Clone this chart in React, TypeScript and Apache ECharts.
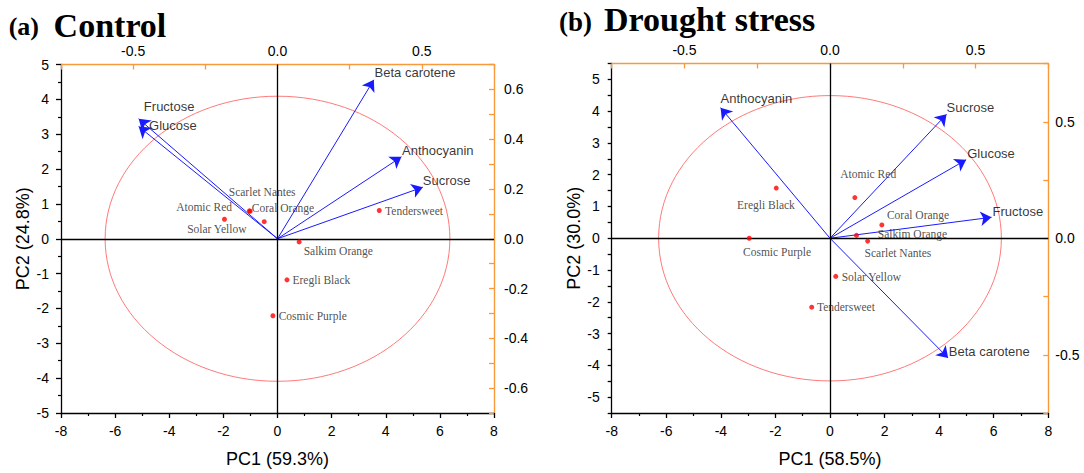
import React, { useEffect, useRef } from 'react';
import * as echarts from 'echarts';

// ---------- Panel (a) Control ----------
const loadNamesA = ['Beta carotene', 'Fructose', 'Glucose', 'Anthocyanin', 'Sucrose'];
const loadPC1A = [3.56, -5.13, -5.13, 4.58, 5.37];
const loadPC2A = [4.56, 3.44, 3.22, 2.35, 1.48];

const cultivarsA = ['Scarlet Nantes', 'Atomic Red', 'Coral Orange', 'Solar Yellow', 'Tendersweet', 'Salkim Orange', 'Eregli Black', 'Cosmic Purple'];
const scorePC1A = [-1.01, -1.04, -0.49, -1.96, 3.76, 0.8, 0.35, -0.17];
const scorePC2A = [0.79, 0.8, 0.49, 0.56, 0.81, -0.09, -1.18, -2.21];

const circleA = [6.37, 4.09];

// ---------- Panel (b) Drought stress ----------
const loadNamesB = ['Anthocyanin', 'Sucrose', 'Glucose', 'Fructose', 'Beta carotene'];
const loadPC1B = [-4.01, 4.27, 4.99, 5.92, 4.33];
const loadPC2B = [4.11, 3.9, 2.47, 0.66, -3.77];

const cultivarsB = ['Eregli Black', 'Cosmic Purple', 'Atomic Red', 'Coral Orange', 'Salkim Orange', 'Scarlet Nantes', 'Solar Yellow', 'Tendersweet'];
const scorePC1B = [-1.97, -2.96, 0.91, 1.9, 0.97, 1.38, 0.21, -0.67];
const scorePC2B = [1.58, 0.0, 1.28, 0.42, 0.09, -0.09, -1.2, -2.17];

const circleB = [6.28, 4.49];

const axisTitlesA = ['PC1 (59.3%)', 'PC2 (24.8%)'];
const axisTitlesB = ['PC1 (58.5%)', 'PC2 (30.0%)'];
const panelTitles = [['(a)', 'Control'], ['(b)', 'Drought stress']];

// ---------- label layout (pixel offsets) ----------
const labelLayoutA: Record<string, [string, number, number]> = {
  'Scarlet Nantes': ['left', -21.4, -19],
  'Atomic Red': ['right', -17.3, -3.4],
  'Coral Orange': ['left', -12.4, -14],
  'Solar Yellow': ['center', -7.6, 9.3],
  'Tendersweet': ['left', 5.8, 0.4],
  'Salkim Orange': ['left', 4.5, 9],
  'Eregli Black': ['left', 5.5, 0],
  'Cosmic Purple': ['left', 5.8, 0],
};
const labelLayoutB: Record<string, [string, number, number]> = {
  'Eregli Black': ['center', -10.3, 17.3],
  'Cosmic Purple': ['left', -6.2, 13.4],
  'Atomic Red': ['left', -14.6, -23.3],
  'Coral Orange': ['left', 5.1, -10],
  'Salkim Orange': ['left', 21.4, -1],
  'Scarlet Nantes': ['left', -3.1, 11.7],
  'Solar Yellow': ['left', 5.9, 0.4],
  'Tendersweet': ['left', 5.2, -0.3],
};
const arrowLabelA: Record<string, [number, number]> = {
  'Beta carotene': [0.7, -7.7],
  'Fructose': [5.2, -12.3],
  'Glucose': [10.4, -0.7],
  'Anthocyanin': [0.6, -6.6],
  'Sucrose': [0, -6.7],
};
const arrowLabelB: Record<string, [number, number]> = {
  'Anthocyanin': [0, -9],
  'Sucrose': [0, -7.3],
  'Glucose': [1, -6.7],
  'Fructose': [1, -5.6],
  'Beta carotene': [0.7, -7],
};

const ORANGE = '#f89a3c';
const BLUE = '#1a1aff';
const RED = '#ff0000';
const SANS = '"Liberation Sans", Arial, sans-serif';
const SERIF = '"Liberation Serif", "Times New Roman", serif';

function panelSeries(
  idx: number,
  loadNames: string[], lp1: number[], lp2: number[],
  cultivars: string[], sp1: number[], sp2: number[],
  circle: number[],
  labelLayout: Record<string, [string, number, number]>,
  arrowLabel: Record<string, [number, number]>
) {
  const ax = idx * 2;
  return [
    {
      type: 'custom',
      xAxisIndex: ax,
      yAxisIndex: ax,
      silent: true,
      z: 1,
      data: [[0, 0, circle[0], circle[1]]],
      renderItem: (params: any, api: any) => {
        const c = api.coord([api.value(0), api.value(1)]);
        const s = api.size([api.value(2), api.value(3)], [api.value(0), api.value(1)]);
        return {
          type: 'ellipse',
          shape: { cx: c[0], cy: c[1], rx: s[0], ry: s[1] },
          style: { fill: 'none', stroke: '#ff6a6a', lineWidth: 0.9 },
        };
      },
    },
    {
      type: 'lines',
      coordinateSystem: 'cartesian2d',
      xAxisIndex: ax,
      yAxisIndex: ax,
      silent: true,
      z: 3,
      symbol: ['none', 'arrow'],
      symbolSize: 11,
      lineStyle: { color: BLUE, width: 1, opacity: 1 },
      data: loadNames.map((n, i) => ({ name: n, coords: [[0, 0], [lp1[i], lp2[i]]] })),
    },
    {
      type: 'scatter',
      xAxisIndex: ax,
      yAxisIndex: ax,
      silent: true,
      z: 4,
      symbolSize: 0,
      data: loadNames.map((n, i) => ({
        name: n,
        value: [lp1[i], lp2[i]],
        label: {
          show: true,
          position: 'inside',
          align: 'left',
          verticalAlign: 'middle',
          offset: arrowLabel[n],
          formatter: n,
          fontFamily: SANS,
          fontSize: 13,
          color: '#000',
        },
      })),
    },
    {
      type: 'scatter',
      xAxisIndex: ax,
      yAxisIndex: ax,
      silent: true,
      z: 5,
      symbol: 'circle',
      symbolSize: 5,
      itemStyle: { color: RED },
      data: cultivars.map((n, i) => ({
        name: n,
        value: [sp1[i], sp2[i]],
        label: {
          show: true,
          position: 'inside',
          align: labelLayout[n][0],
          verticalAlign: 'middle',
          offset: [labelLayout[n][1], labelLayout[n][2]],
          formatter: n,
          fontFamily: SERIF,
          fontSize: 11.5,
          color: '#222',
        },
      })),
      markLine: {
        silent: true,
        symbol: 'none',
        label: { show: false },
        lineStyle: { color: '#000', width: 1.3, type: 'solid' },
        data: [{ xAxis: 0 }, { yAxis: 0 }],
      },
    },
  ];
}

function bottomAxis(grid: number, name: string) {
  return {
    gridIndex: grid,
    type: 'value',
    position: 'bottom',
    min: -8,
    max: 8,
    interval: 2,
    name,
    nameLocation: 'middle',
    nameGap: 37,
    nameTextStyle: { fontFamily: SANS, fontSize: 18, color: '#000' },
    axisLine: { show: true, onZero: false, lineStyle: { color: '#000', width: 1.3 } },
    axisTick: { show: true, inside: false, length: 5, lineStyle: { color: '#000', width: 1.3 } },
    minorTick: { show: true, splitNumber: 2, length: 3, lineStyle: { color: '#000', width: 1.2 } },
    axisLabel: { margin: 11, fontFamily: SANS, fontSize: 14, color: '#000' },
    splitLine: { show: false },
  };
}

function topAxis(grid: number) {
  return {
    gridIndex: grid,
    type: 'value',
    position: 'top',
    min: -0.75,
    max: 0.75,
    interval: 0.25,
    axisLine: { show: true, onZero: false, lineStyle: { color: ORANGE, width: 1.4 } },
    axisTick: { show: true, inside: true, length: 5, lineStyle: { color: ORANGE, width: 1.3 } },
    axisLabel: {
      margin: 7,
      fontFamily: SANS,
      fontSize: 14,
      color: '#000',
      formatter: (v: number) => {
        const r = Math.round(v * 4);
        if (r % 2 !== 0) return '';
        return (r === 0 ? 0 : r / 4).toFixed(1);
      },
    },
    splitLine: { show: false },
  };
}

const App: React.FC = () => {
  const ref = useRef<HTMLDivElement>(null);
  useEffect(() => {
    if (!ref.current) return;
    const chart = echarts.init(ref.current, undefined, { renderer: 'svg' });
    const option: any = {
      animation: false,
      backgroundColor: '#fff',
      grid: [
        { left: 61, top: 64.5, width: 433, height: 350 },
        { left: 611.7, top: 63.5, width: 436.6, height: 352 },
      ],
      xAxis: [
        bottomAxis(0, axisTitlesA[0]),
        topAxis(0),
        bottomAxis(1, axisTitlesB[0]),
        topAxis(1),
      ],
      yAxis: [
        {
          gridIndex: 0,
          type: 'value',
          position: 'left',
          min: -5,
          max: 5,
          interval: 1,
          name: axisTitlesA[1],
          nameLocation: 'middle',
          nameGap: 29,
          nameTextStyle: { fontFamily: SANS, fontSize: 18, color: '#000' },
          axisLine: { show: true, onZero: false, lineStyle: { color: '#000', width: 1.3 } },
          axisTick: { show: true, length: 5, lineStyle: { color: '#000', width: 1.3 } },
          minorTick: { show: true, splitNumber: 2, length: 3, lineStyle: { color: '#000', width: 1.2 } },
          axisLabel: { margin: 12, fontFamily: SANS, fontSize: 14, color: '#000' },
          splitLine: { show: false },
        },
        {
          gridIndex: 0,
          type: 'value',
          position: 'right',
          min: -0.7,
          max: 0.7,
          interval: 0.1,
          axisLine: { show: true, onZero: false, lineStyle: { color: ORANGE, width: 1.4 } },
          axisTick: { show: true, inside: true, length: 5, lineStyle: { color: ORANGE, width: 1.3 } },
          axisLabel: {
            margin: 10,
            fontFamily: SANS,
            fontSize: 14,
            color: '#000',
            formatter: (v: number) => {
              const r = Math.round(v * 10);
              if (r % 2 !== 0) return '';
              return (r === 0 ? 0 : r / 10).toFixed(1);
            },
          },
          splitLine: { show: false },
        },
        {
          gridIndex: 1,
          type: 'value',
          position: 'left',
          min: -5.5,
          max: 5.5,
          interval: 0.5,
          name: axisTitlesB[1],
          nameLocation: 'middle',
          nameGap: 29,
          nameTextStyle: { fontFamily: SANS, fontSize: 18, color: '#000' },
          axisLine: { show: true, onZero: false, lineStyle: { color: '#000', width: 1.3 } },
          axisTick: { show: true, length: 4, lineStyle: { color: '#000', width: 1.3 } },
          axisLabel: {
            margin: 12,
            fontFamily: SANS,
            fontSize: 14,
            color: '#000',
            formatter: (v: number) => {
              const r = Math.round(v * 2);
              if (r % 2 !== 0) return '';
              return String(r / 2 === 0 ? 0 : r / 2);
            },
          },
          splitLine: { show: false },
        },
        {
          gridIndex: 1,
          type: 'value',
          position: 'right',
          min: -0.75,
          max: 0.75,
          interval: 0.25,
          axisLine: { show: true, onZero: false, lineStyle: { color: ORANGE, width: 1.4 } },
          axisTick: { show: true, inside: true, length: 5, lineStyle: { color: ORANGE, width: 1.3 } },
          axisLabel: {
            margin: 7,
            fontFamily: SANS,
            fontSize: 14,
            color: '#000',
            formatter: (v: number) => {
              const r = Math.round(v * 4);
              if (r % 2 !== 0) return '';
              return (r === 0 ? 0 : r / 4).toFixed(1);
            },
          },
          splitLine: { show: false },
        },
      ],
      graphic: [
        { type: 'text', style: { text: panelTitles[0][0], x: 8.7, y: 26.7, font: `bold 26px ${SERIF}`, lineHeight: 24, fill: '#000', textAlign: 'left', textVerticalAlign: 'middle' } },
        { type: 'text', style: { text: panelTitles[0][1], x: 53.6, y: 25.2, font: `bold 34px ${SERIF}`, lineHeight: 26, fill: '#000', textAlign: 'left', textVerticalAlign: 'middle' } },
        { type: 'text', style: { text: panelTitles[1][0], x: 559, y: 21.5, font: `bold 27px ${SERIF}`, lineHeight: 24, fill: '#000', textAlign: 'left', textVerticalAlign: 'middle' } },
        { type: 'text', style: { text: panelTitles[1][1], x: 604, y: 19.5, font: `bold 34px ${SERIF}`, lineHeight: 26, fill: '#000', textAlign: 'left', textVerticalAlign: 'middle' } },
      ],
      series: [
        ...panelSeries(0, loadNamesA, loadPC1A, loadPC2A, cultivarsA, scorePC1A, scorePC2A, circleA, labelLayoutA, arrowLabelA),
        ...panelSeries(1, loadNamesB, loadPC1B, loadPC2B, cultivarsB, scorePC1B, scorePC2B, circleB, labelLayoutB, arrowLabelB),
      ],
    };
    chart.setOption(option);
    return () => chart.dispose();
  }, []);
  return (
    <div
      ref={ref}
      style={{ position: 'absolute', left: 0, top: 0, width: 1084, height: 473, background: '#fff' }}
    />
  );
};

export default App;
